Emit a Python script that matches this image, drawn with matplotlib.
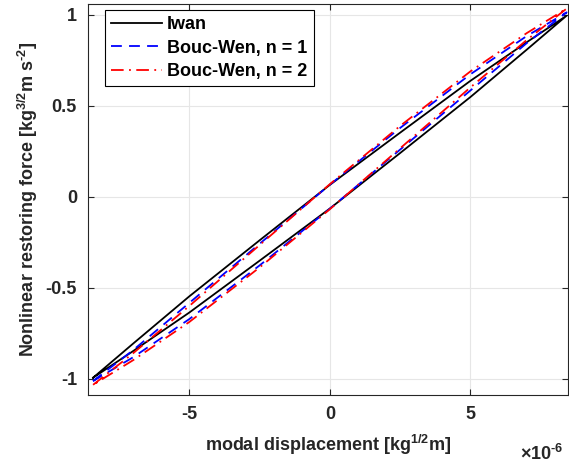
import numpy as np
import matplotlib
matplotlib.use('Agg')
import matplotlib.pyplot as plt

plt.rcParams['font.family'] = ['Liberation Sans', 'DejaVu Sans']
plt.rcParams['font.weight'] = 'bold'
plt.rcParams['mathtext.fontset'] = 'custom'
plt.rcParams['mathtext.rm'] = 'Liberation Sans:bold'
plt.rcParams['mathtext.bf'] = 'Liberation Sans:bold'
plt.rcParams['mathtext.default'] = 'bf'

# displacement in units of 1e-6
# loading branch (upper) and unloading branch (lower)
x_up = [-8.42, -7, -5, -2.5, 0, 2.5, 5, 7, 8.42]
x_dn = [8.42, 7, 5, 2.5, 0, -2.5, -5, -7, -8.42]

iwan_up = [-0.995, -0.808, -0.548, -0.24, 0.065, 0.352, 0.637, 0.849, 0.995]
iwan_dn = [0.995, 0.808, 0.548, 0.24, -0.065, -0.352, -0.637, -0.849, -0.995]

bw1_up = [-1.013, -0.844, -0.584, -0.259, 0.066, 0.378, 0.673, 0.883, 1.013]
bw1_dn = [1.013, 0.844, 0.584, 0.259, -0.066, -0.378, -0.673, -0.883, -1.013]

bw2_up = [-1.034, -0.861, -0.601, -0.266, 0.069, 0.389, 0.689, 0.899, 1.034]
bw2_dn = [1.034, 0.861, 0.601, 0.266, -0.069, -0.389, -0.689, -0.899, -1.034]

fig = plt.figure(figsize=(5.69, 4.68), dpi=100)
ax = fig.add_axes([0.1547, 0.156, 0.8436, 0.835])

scale = 1e-6
lw = 1.3
xs = np.array(x_up + x_dn) * scale
ax.plot(xs, iwan_up + iwan_dn, '-', color='k', lw=lw, label='Iwan')
ax.plot(xs, bw1_up + bw1_dn, color='b', lw=lw, dashes=(6, 4), label='Bouc-Wen, n = 1')
ax.plot(xs, bw2_up + bw2_dn, color='r', lw=lw, dashes=(7, 3, 1, 3), label='Bouc-Wen, n = 2')

ax.set_xlim(-8.6e-6, 8.47e-6)
ax.set_ylim(-1.09, 1.058)
ax.set_xticks([-5e-6, 0, 5e-6])
ax.set_xticklabels(['-5', '0', '5'])
ax.set_yticks([-1, -0.5, 0, 0.5, 1])
ax.set_yticklabels(['-1', '-0.5', '0', '0.5', '1'])

gray = (0.15, 0.15, 0.15)
ax.tick_params(direction='in', top=True, right=True, length=4, width=0.8,
               colors=gray, labelsize=13, pad=8)
for lab in ax.get_xticklabels() + ax.get_yticklabels():
    lab.set_fontweight('bold')
for s in ax.spines.values():
    s.set_color(gray)
    s.set_linewidth(0.8)
ax.grid(True, color=(0.9, 0.9, 0.9), lw=0.8)
ax.set_axisbelow(True)

ax.set_xlabel('modal displacement [kg$^{1/2}$m]', fontsize=13, fontweight='bold',
              color=gray, labelpad=7)
ax.set_ylabel(r'Nonlinear restoring force [kg$^{3/2}$m s$^{\text{-}2}$]', fontsize=13,
              fontweight='bold', color=gray, labelpad=4)
ax.text(0.99, -0.152, r'$\times$10$^{\text{-}6}$', transform=ax.transAxes, ha='right',
        va='center', fontsize=13, color=gray)

leg = ax.legend(loc='upper left', bbox_to_anchor=(0.035, 0.985), borderaxespad=0,
                fancybox=False, edgecolor='k', framealpha=1, fontsize=13,
                handlelength=2.8, handletextpad=0.3, labelspacing=0.35,
                borderpad=0.35)
leg.get_frame().set_linewidth(0.8)
for t in leg.get_texts():
    t.set_fontweight('bold')

fig.savefig('out.png', dpi=100)
